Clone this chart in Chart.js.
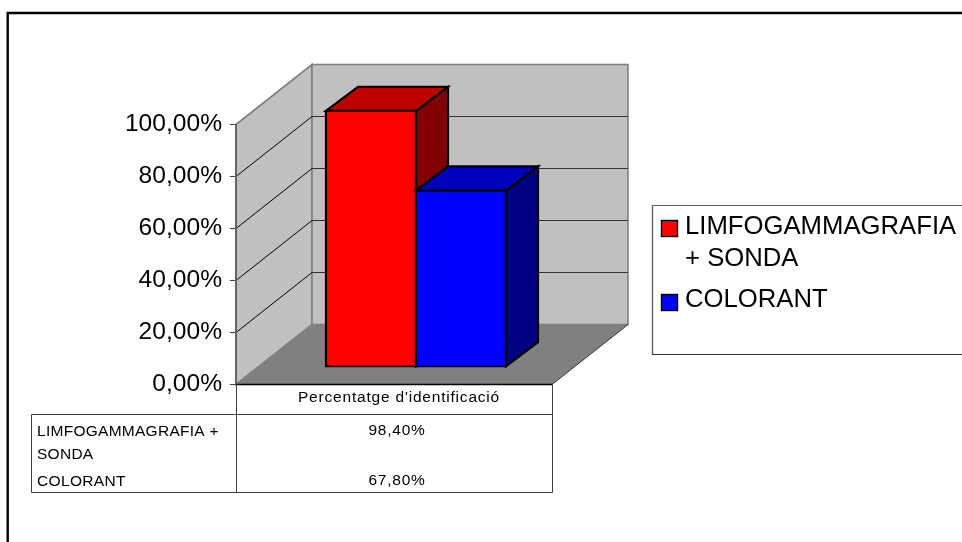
<!DOCTYPE html>
<html>
<head>
<meta charset="utf-8">
<style>
  html, body { margin: 0; padding: 0; background: #fff; overflow: hidden; }
  canvas { display: block; }
</style>
<script src="https://cdn.jsdelivr.net/npm/chart.js@4"></script>
</head>
<body>
<canvas id="chart" width="962" height="542"></canvas>
<script>
// Identification rate by detection technique
const categories = ["Percentatge d'identificació"];
const seriesNames = ['LIMFOGAMMAGRAFIA + SONDA', 'COLORANT'];
const limfogammagrafiaValues = [98.4];
const colorantValues = [67.8];
const seriesWrapped = [['LIMFOGAMMAGRAFIA', '+ SONDA'], ['COLORANT']];
const tableWrapped = [['LIMFOGAMMAGRAFIA +', 'SONDA'], ['COLORANT']];
const frontColors = ['#ff0000', '#0000ff'];
const topColors = ['#bf0000', '#0000bf'];
const sideColors = ['#800000', '#000080'];

const percentLabel = v => v.toFixed(2).replace('.', ',') + '%';

// Oblique projection of the box: floor depth and column depth, in pixels
const WALL_DX = 76, WALL_DY = -60;
const BAR_DX = 32, BAR_DY = -24;
const BAR_SHIFT_X = 22, BAR_SHIFT_Y = -17.8;

function poly(ctx, pts, fill, stroke, lw) {
  ctx.beginPath();
  pts.forEach((p, i) => i ? ctx.lineTo(p[0], p[1]) : ctx.moveTo(p[0], p[1]));
  ctx.closePath();
  if (fill) { ctx.fillStyle = fill; ctx.fill(); }
  if (stroke) { ctx.strokeStyle = stroke; ctx.lineWidth = lw; ctx.stroke(); }
}

function line(ctx, x1, y1, x2, y2, color, lw) {
  ctx.beginPath();
  ctx.moveTo(x1, y1);
  ctx.lineTo(x2, y2);
  ctx.strokeStyle = color;
  ctx.lineWidth = lw;
  ctx.stroke();
}

function text(ctx, str, x, y, size, spacing, align) {
  ctx.font = size + 'px "Liberation Sans", Arial, sans-serif';
  ctx.letterSpacing = spacing + 'px';
  ctx.textAlign = align || 'left';
  ctx.textBaseline = 'alphabetic';
  ctx.fillStyle = '#000';
  ctx.fillText(str, x, y);
  ctx.letterSpacing = '0px';
}

// Walls, floor and the gridlines that run along them
const roomPlugin = {
  id: 'room',
  beforeDraw(chart) {
    const { ctx, chartArea: a, scales: { y } } = chart;
    ctx.save();
    ctx.lineJoin = 'miter';
    const l = a.left, r = a.right, t = y.getPixelForValue(100), b = y.getPixelForValue(0);
    poly(ctx, [[l, t], [l + WALL_DX, t + WALL_DY], [l + WALL_DX, b + WALL_DY], [l, b]], '#c0c0c0', '#808080', 1.6);
    poly(ctx, [[l + WALL_DX, t + WALL_DY], [r + WALL_DX, t + WALL_DY], [r + WALL_DX, b + WALL_DY], [l + WALL_DX, b + WALL_DY]], '#c0c0c0', '#808080', 1.6);
    y.ticks.forEach(tick => {
      const py = y.getPixelForValue(tick.value);
      if (tick.value > 0 && tick.value < 100) {
        line(ctx, l, py, l + WALL_DX, py + WALL_DY, '#000', 1);
        line(ctx, l + WALL_DX, py + WALL_DY, r + WALL_DX, py + WALL_DY, '#333', 1);
      }
    });
    poly(ctx, [[l, b], [l + WALL_DX, b + WALL_DY], [r + WALL_DX, b + WALL_DY], [r, b]], '#808080');
    line(ctx, r, b, r + WALL_DX, b + WALL_DY, '#333', 1);
    ctx.restore();
  },
  // Columns are painted left to right so each one overlaps the side of the previous one
  beforeDatasetDraw() {
    return false;
  },
  afterDatasetsDraw(chart) {
    const { ctx, chartArea: a, scales: { y } } = chart;
    const b = y.getPixelForValue(0);
    line(ctx, a.left, b, a.right, b, '#000', 1.5);
    ctx.save();
    ctx.translate(BAR_SHIFT_X, BAR_SHIFT_Y);
    ctx.lineJoin = 'miter';
    chart.data.datasets.forEach((ds, i) => {
      const meta = chart.getDatasetMeta(i);
      meta.controller.draw();
      meta.data.forEach(bar => {
        const p = bar.getProps(['x', 'y', 'base', 'width']);
        const l = p.x - p.width / 2, r = p.x + p.width / 2;
        poly(ctx, [[l, p.y], [l + BAR_DX, p.y + BAR_DY], [r + BAR_DX, p.y + BAR_DY], [r, p.y]], topColors[i], '#000', 2.2);
        poly(ctx, [[r, p.y], [r + BAR_DX, p.y + BAR_DY], [r + BAR_DX, p.base + BAR_DY], [r, p.base]], sideColors[i], '#000', 2.2);
        poly(ctx, [[l, p.y], [r, p.y], [r, p.base], [l, p.base]], null, '#000', 2.2);
      });
    });
    ctx.restore();
  }
};

// Data table under the plot, the legend box and the frame round the chart
const furniturePlugin = {
  id: 'furniture',
  afterDraw(chart) {
    const { ctx, chartArea: a, scales: { x } } = chart;
    const left = a.left + 0.5, right = a.right + 0.5, tableLeft = 31.5;
    const head = 414.5, foot = 492.5, center = x.getPixelForValue(0);
    ctx.save();
    const c = '#404040';
    line(ctx, left, a.bottom, left, foot, c, 1);
    line(ctx, right, a.bottom, right, foot, c, 1);
    line(ctx, tableLeft, head, tableLeft, foot, c, 1);
    line(ctx, tableLeft, head, right, head, c, 1);
    line(ctx, tableLeft, foot, right, foot, c, 1);

    text(ctx, categories[0], center + 5, 402, 15.5, 0.8, 'center');
    text(ctx, tableWrapped[0][0], 37, 436, 15.5, 0.27);
    text(ctx, tableWrapped[0][1], 37, 459, 15.5, 0.27);
    text(ctx, tableWrapped[1][0], 37, 486, 15.5, 0.35);
    text(ctx, percentLabel(limfogammagrafiaValues[0]), center + 3, 435, 15.5, 0.75, 'center');
    text(ctx, percentLabel(colorantValues[0]), center + 3, 485, 15.5, 0.75, 'center');

    // Legend
    ctx.fillStyle = '#fff';
    ctx.fillRect(652, 205, 320, 149);
    line(ctx, 963, 205.5, 652.5, 205.5, '#606060', 1);
    line(ctx, 652.5, 205, 652.5, 354, '#606060', 1.4);
    line(ctx, 652, 354.5, 963, 354.5, '#303030', 1);
    const swatchTops = [220.5, 294.5];
    const baselines = [[234, 266], [307]];
    seriesWrapped.forEach((rows, i) => {
      ctx.fillStyle = frontColors[i];
      ctx.strokeStyle = '#000';
      ctx.lineWidth = 1.4;
      ctx.fillRect(661.5, swatchTops[i], 16, 16);
      ctx.strokeRect(661.5, swatchTops[i], 16, 16);
      rows.forEach((row, j) => text(ctx, row, 685, baselines[i][j], 25.7, 0));
    });

    // Chart frame, running off the right and bottom of the page
    ctx.beginPath();
    ctx.moveTo(7.7, 542);
    ctx.lineTo(7.7, 13);
    ctx.lineTo(962, 13);
    ctx.strokeStyle = '#000';
    ctx.lineWidth = 2.4;
    ctx.stroke();
    ctx.restore();
  }
};

new Chart(document.getElementById('chart'), {
  type: 'bar',
  data: {
    labels: categories,
    datasets: [
      { label: seriesNames[0], data: limfogammagrafiaValues, backgroundColor: frontColors[0], borderWidth: 0, categoryPercentage: 180 / 316, barPercentage: 1 },
      { label: seriesNames[1], data: colorantValues, backgroundColor: frontColors[1], borderWidth: 0, categoryPercentage: 180 / 316, barPercentage: 1 }
    ]
  },
  options: {
    responsive: false,
    animation: false,
    events: [],
    layout: { padding: { left: 0, right: 410, top: 124.5, bottom: 157.5 } },
    plugins: { legend: { display: false }, tooltip: { enabled: false } },
    scales: {
      x: { display: false },
      y: {
        min: 0,
        max: 100,
        afterFit(scale) { scale.width = 236; },
        ticks: {
          stepSize: 20,
          padding: 8,
          color: '#000',
          font: { family: '"Liberation Sans", Arial, sans-serif', size: 24.6 },
          callback: v => percentLabel(v)
        },
        grid: { drawOnChartArea: false, tickLength: 6, color: '#404040', lineWidth: 1 },
        border: { display: true, color: '#666', width: 2 }
      }
    }
  },
  plugins: [roomPlugin, furniturePlugin]
});
</script>
</body>
</html>
